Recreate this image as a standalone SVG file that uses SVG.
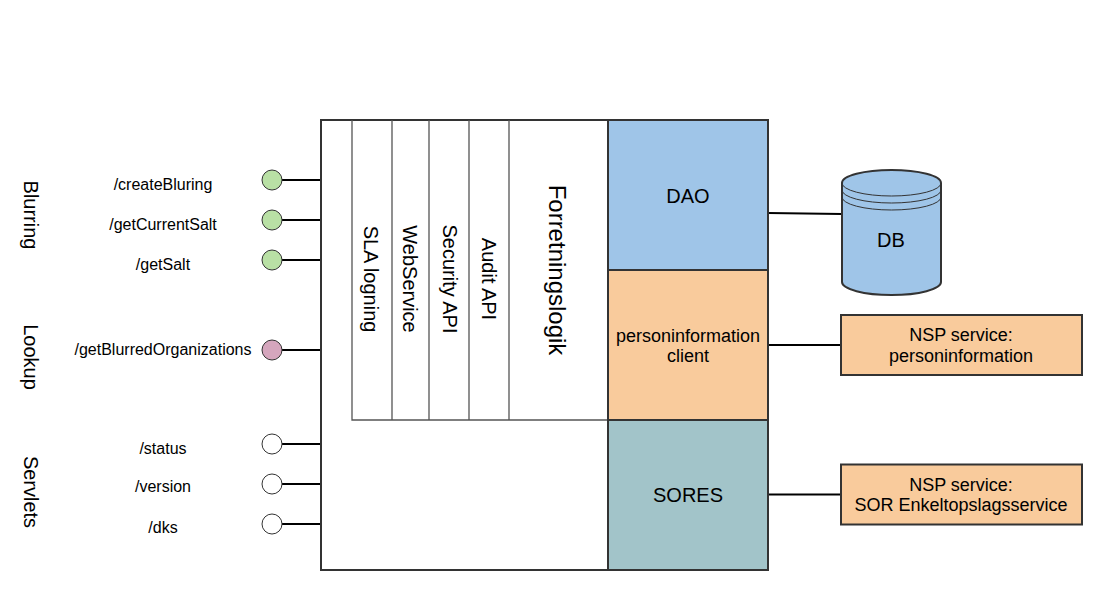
<svg xmlns="http://www.w3.org/2000/svg" width="1101" height="591" viewBox="0 0 1101 591">
<style>
text{font-family:"Liberation Sans",Arial,sans-serif;fill:#000;text-anchor:middle;dominant-baseline:central}
.ep{font-size:16px}
.grp{font-size:20px}
.box{stroke:#333;stroke-width:2}
.col{fill:none;stroke:#555;stroke-width:1.3}
.port{stroke:#333;stroke-width:1}
.con{stroke:#000;stroke-width:2;fill:none}
</style>
<rect width="1101" height="591" fill="#fff"/>
<g id="connectors">
<path class="con" d="M282 180H321M282 220H321M282 260H321M282 350H321M282 444H321M282 484H321M282 524H321"/>
<path class="con" d="M768 213L842 214"/>
<path class="con" d="M768 345H841"/>
<path class="con" d="M768 494.5H841"/>
</g>
<g id="app">
<rect x="321" y="120" width="447" height="450" fill="#fff" class="box"/>
</g>
<g id="columns">
<path class="col" d="M352 120V420H608M392 120V420M429 120V420M469 120V420M509 120V420"/>
<text class="grp" transform="translate(371,279) rotate(90)">SLA logning</text>
<text class="grp" transform="translate(410,279) rotate(90)">WebService</text>
<text class="grp" transform="translate(450,279) rotate(90)">Security API</text>
<text class="grp" transform="translate(489,279) rotate(90)">Audit API</text>
<text style="font-size:24px" transform="translate(557,270) rotate(90)">Forretningslogik</text>
</g>
<g id="dao">
<rect x="608" y="120" width="160" height="150" fill="#9fc5e8" class="box"/>
<text class="grp" x="688" y="196">DAO</text>
</g>
<g id="pinfo">
<rect x="608" y="270" width="160" height="150" fill="#f9cb9c" class="box"/>
<text style="font-size:18px" x="688" y="336">personinformation</text>
<text style="font-size:18px" x="688" y="356">client</text>
</g>
<g id="sores">
<rect x="608" y="420" width="160" height="150" fill="#a2c4c9" class="box"/>
<text class="grp" x="688" y="495">SORES</text>
</g>
<g id="db">
<path d="M842 183A49.5 13 0 0 1 941 183V282A49.5 13 0 0 1 842 282Z" fill="#9fc5e8" stroke="#333" stroke-width="2"/>
<path d="M842 183A49.5 13 0 0 0 941 183M842 190A49.5 13 0 0 0 941 190M842 197A49.5 13 0 0 0 941 197" fill="none" stroke="#333" stroke-width="1"/>
<text class="grp" x="891" y="240">DB</text>
</g>
<g id="nsp-pinfo">
<rect x="841" y="315" width="241" height="60" fill="#f9cb9c" class="box"/>
<text style="font-size:18px" x="961" y="335">NSP service:</text>
<text style="font-size:18px" x="961" y="356">personinformation</text>
</g>
<g id="nsp-sor">
<rect x="841" y="464.5" width="241" height="60" fill="#f9cb9c" class="box"/>
<text style="font-size:18px" x="961" y="485">NSP service:</text>
<text style="font-size:18px" x="961" y="505">SOR Enkeltopslagsservice</text>
</g>
<g id="blurring">
<text class="grp" transform="translate(31,215) rotate(90)">Blurring</text>
<text class="ep" x="163" y="184">/createBluring</text>
<text class="ep" x="163" y="224">/getCurrentSalt</text>
<text class="ep" x="163" y="264">/getSalt</text>
<circle class="port" cx="272" cy="180" r="10" fill="#b9e0a5"/>
<circle class="port" cx="272" cy="220" r="10" fill="#b9e0a5"/>
<circle class="port" cx="272" cy="260" r="10" fill="#b9e0a5"/>
</g>
<g id="lookup">
<text class="grp" transform="translate(31,357) rotate(90)">Lookup</text>
<text class="ep" x="163" y="349">/getBlurredOrganizations</text>
<circle class="port" cx="272" cy="350" r="10" fill="#d5a6bd"/>
</g>
<g id="servlets">
<text class="grp" transform="translate(31,492) rotate(90)">Servlets</text>
<text class="ep" x="163" y="448">/status</text>
<text class="ep" x="163" y="486">/version</text>
<text class="ep" x="163" y="527">/dks</text>
<circle class="port" cx="272" cy="444" r="10" fill="#fff"/>
<circle class="port" cx="272" cy="484" r="10" fill="#fff"/>
<circle class="port" cx="272" cy="524" r="10" fill="#fff"/>
</g>
</svg>
